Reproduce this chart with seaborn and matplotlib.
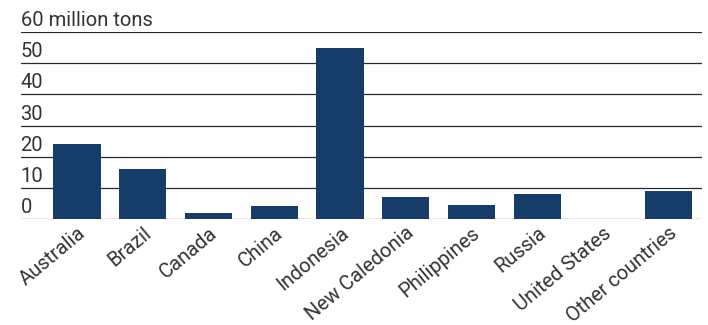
import matplotlib
matplotlib.use("Agg")
import matplotlib.pyplot as plt
import matplotlib.transforms as mtransforms
import seaborn as sns
import pandas as pd

countries = ["Australia", "Brazil", "Canada", "China", "Indonesia",
             "New Caledonia", "Philippines", "Russia", "United States",
             "Other countries"]
reserves = [24, 16, 2.1, 4.4, 55, 7.1, 4.6, 8.1, 0.1, 9.1]
y_ticks = [0, 10, 20, 30, 40, 50, 60]
y_labels = ["0", "10", "20", "30", "40", "50", "60 million tons"]

sns.set_theme(style="white")
plt.rcParams["font.family"] = ["Roboto", "DejaVu Sans"]

df = pd.DataFrame({"country": countries, "reserves": reserves})

fig = plt.figure(figsize=(7.08, 3.25), dpi=100)
ax = fig.add_axes([0.029, 0.325, 0.962, 0.5765])

bar_color = "#163d69"
sns.barplot(data=df, x="country", y="reserves", color=bar_color,
            saturation=1, width=0.72, ax=ax, zorder=3, edgecolor=bar_color,
            linewidth=0)

ax.set_xlim(-0.86, 9.5)
ax.set_ylim(0, 60)

# horizontal rules with the value printed above each one
for t in y_ticks:
    ax.axhline(t, color="#2a2a2a" if t else "#555555", lw=0.9, zorder=2)
blend = mtransforms.blended_transform_factory(ax.transAxes, ax.transData)
offset = mtransforms.offset_copy(blend, fig=fig, x=0, y=1.5, units="points")
for t, lab in zip(y_ticks, y_labels):
    ax.text(0.0, t, lab, transform=offset, ha="left", va="bottom",
            fontsize=14.5, color="#333333", zorder=4)

for s in ax.spines.values():
    s.set_visible(False)
ax.set_yticks([])
ax.set_xlabel("")
ax.set_ylabel("")
ax.tick_params(axis="x", length=0, pad=3)
for lbl in ax.get_xticklabels():
    lbl.set_rotation(40)
    lbl.set_ha("right")
    lbl.set_rotation_mode("anchor")
    lbl.set_fontsize(14.5)
    lbl.set_color("#333333")

fig.savefig("out.png", dpi=100)
